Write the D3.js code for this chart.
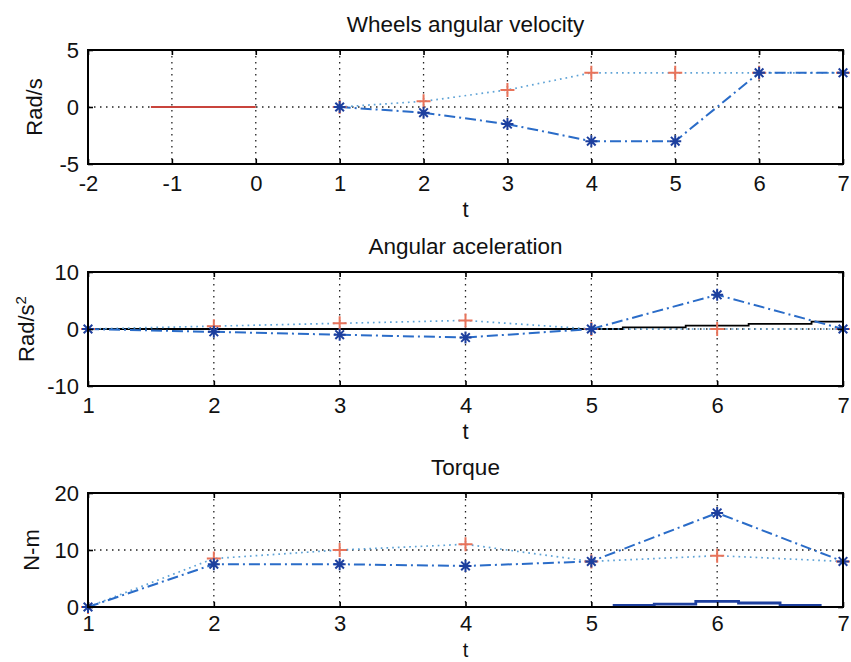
<!DOCTYPE html>
<html>
<head>
<meta charset="utf-8">
<script src="https://cdn.jsdelivr.net/npm/d3@7"></script>
<style>
  body { margin: 0; background: #fff; }
  svg { display: block; font-family: "Liberation Sans", Arial, sans-serif; }
  .axis text { font-size: 22px; fill: #111; }
  .axis path, .axis line { stroke: #000; }
</style>
</head>
<body>
<script>
// ---- data ----
var tSteps = [1, 2, 3, 4, 5, 6, 7];

// wheels angular velocity
var velRed = [0, 0.5, 1.5, 3, 3, 3, 3];
var velBlue = [0, -0.5, -1.5, -3, -3, 3, 3];
var velRefT = [-1.25, 0];
var velRefY = [0, 0];
var velXTicks = [-2, -1, 0, 1, 2, 3, 4, 5, 6, 7];
var velYTicks = [-5, 0, 5];

// angular acceleration
var accRed = [0, 0.5, 1, 1.5, 0, 0, 0];
var accBlue = [0, -0.5, -1, -1.5, 0, 6, 0];
var accStepT = [1, 5.25, 5.75, 6.25, 6.75, 7];
var accStepY = [0, 0.3, 0.6, 0.9, 1.3, 1.3];
var accYTicks = [-10, 0, 10];

// torque
var torqueRed = [0, 8.5, 10, 11, 8, 9, 8];
var torqueBlue = [0, 7.5, 7.5, 7.2, 8, 16.5, 8];
var torqueStepT = [5.17, 5.5, 5.83, 6.17, 6.5, 6.83];
var torqueStepY = [0.3, 0.5, 1.0, 0.7, 0.3, 0.3];
var torqueYTicks = [0, 10, 20];

var stepXTicks = [1, 2, 3, 4, 5, 6, 7];

// ---- drawing ----
var width = 851, height = 662;
var left = 88, right = 843;

var svg = d3.select("body").append("svg")
    .attr("width", width)
    .attr("height", height);

function zip(xs, ys) { return xs.map(function(x, i) { return [x, ys[i]]; }); }
function fmt(d) { return String(d); }

function panel(opt) {
  var x = d3.scaleLinear().domain(opt.xDomain).range([left, right]);
  var y = d3.scaleLinear().domain(opt.yDomain).range([opt.bottom, opt.top]);
  var g = svg.append("g");

  // grid
  g.selectAll(".vgrid").data(opt.xTicks.slice(1, -1)).enter().append("line")
      .attr("x1", function(d) { return x(d); }).attr("x2", function(d) { return x(d); })
      .attr("y1", opt.top).attr("y2", opt.bottom)
      .attr("stroke", "#222").attr("stroke-width", 1.3).attr("stroke-dasharray", "1.5,4.5");
  g.selectAll(".hgrid").data(opt.yTicks.slice(1, -1)).enter().append("line")
      .attr("x1", left).attr("x2", right)
      .attr("y1", function(d) { return y(d); }).attr("y2", function(d) { return y(d); })
      .attr("stroke", "#222").attr("stroke-width", 1.3).attr("stroke-dasharray", "1.5,4.5");

  var line = d3.line().x(function(d) { return x(d[0]); }).y(function(d) { return y(d[1]); });

  (opt.solid || []).forEach(function(s) {
    g.append("path").datum(s.pts)
        .attr("fill", "none").attr("stroke", s.color).attr("stroke-width", s.width || 1.5)
        .attr("d", line.curve(s.step ? d3.curveStepAfter : d3.curveLinear));
  });
  line.curve(d3.curveLinear);

  // red series: dotted line + plus markers
  g.append("path").datum(opt.red)
      .attr("fill", "none").attr("stroke", "#5fa3d6").attr("stroke-width", 1.7)
      .attr("stroke-dasharray", "1.7,4").attr("d", line);
  // blue series: dash-dot line + star markers
  g.append("path").datum(opt.blue)
      .attr("fill", "none").attr("stroke", "#2a6cc8").attr("stroke-width", 2)
      .attr("stroke-dasharray", "11,4,2,4").attr("d", line);

  g.selectAll(".plus").data(opt.red).enter().append("path")
      .attr("transform", function(d) { return "translate(" + x(d[0]) + "," + y(d[1]) + ")"; })
      .attr("d", "M-7,0H7M0,-7V7")
      .attr("stroke", "#e8735a").attr("stroke-width", 2);
  g.selectAll(".star").data(opt.blue).enter().append("path")
      .attr("transform", function(d) { return "translate(" + x(d[0]) + "," + y(d[1]) + ")"; })
      .attr("d", "M-6,0H6M0,-6V6M-4.3,-4.3L4.3,4.3M-4.3,4.3L4.3,-4.3")
      .attr("stroke", "#1d3f9e").attr("stroke-width", 2);

  // axes, ticks inside, box
  g.append("g").attr("class", "axis")
      .attr("transform", "translate(0," + opt.bottom + ")")
      .call(d3.axisBottom(x).tickValues(opt.xTicks).tickFormat(fmt).tickSizeInner(-5).tickSizeOuter(0)
        .tickPadding(opt.xPad || 11))
      .call(function(a) { a.select(".domain").remove(); });
  g.append("g").attr("class", "axis")
      .attr("transform", "translate(" + left + ",0)")
      .call(d3.axisLeft(y).tickValues(opt.yTicks).tickFormat(fmt).tickSizeInner(-5).tickSizeOuter(0).tickPadding(9))
      .call(function(a) { a.select(".domain").remove(); });
  g.append("g").attr("class", "axis")
      .attr("transform", "translate(0," + opt.top + ")")
      .call(d3.axisTop(x).tickValues(opt.xTicks).tickSizeInner(-5).tickSizeOuter(0).tickFormat(""))
      .call(function(a) { a.select(".domain").remove(); });
  g.append("g").attr("class", "axis")
      .attr("transform", "translate(" + right + ",0)")
      .call(d3.axisRight(y).tickValues(opt.yTicks).tickSizeInner(-5).tickSizeOuter(0).tickFormat(""))
      .call(function(a) { a.select(".domain").remove(); });
  g.selectAll(".axis line").attr("stroke-width", 1.6);

  g.append("rect")
      .attr("x", left).attr("y", opt.top)
      .attr("width", right - left).attr("height", opt.bottom - opt.top)
      .attr("fill", "none").attr("stroke", "#000").attr("stroke-width", 2);

  // texts
  g.append("text").attr("x", (left + right) / 2).attr("y", opt.top - 18)
      .attr("text-anchor", "middle").attr("font-size", 22.5).attr("fill", "#111")
      .text(opt.title);
  g.append("text").attr("x", (left + right) / 2).attr("y", opt.bottom + (opt.xlabDy || 53))
      .attr("text-anchor", "middle").attr("font-size", opt.xlabSize || 22).attr("fill", "#111")
      .text("t");
  var yl = g.append("text")
      .attr("transform", "translate(" + opt.ylabX + "," + (opt.top + opt.bottom) / 2 + ") rotate(-90)")
      .attr("text-anchor", "middle").attr("font-size", 22).attr("fill", "#111");
  yl.text(opt.ylabel);
  if (opt.ylabSup) {
    yl.append("tspan").attr("dy", -8).attr("font-size", 15).text(opt.ylabSup);
  }
}

panel({
  title: "Wheels angular velocity", ylabel: "Rad/s", ylabX: 42,
  top: 50, bottom: 164, xDomain: [-2, 7], yDomain: [-5, 5],
  xTicks: velXTicks, yTicks: velYTicks,
  red: zip(tSteps, velRed), blue: zip(tSteps, velBlue),
  solid: [{ pts: zip(velRefT, velRefY), color: "#c9443c", width: 2.2 }]
});

panel({
  title: "Angular aceleration", ylabel: "Rad/s", ylabSup: "2", ylabX: 34,
  top: 272, bottom: 386, xDomain: [1, 7], yDomain: [-10, 10],
  xTicks: stepXTicks, yTicks: accYTicks,
  red: zip(tSteps, accRed), blue: zip(tSteps, accBlue),
  solid: [{ pts: zip(accStepT, accStepY), color: "#000", width: 1.8, step: true }]
});

panel({
  title: "Torque", ylabel: "N-m", ylabX: 39, xlabDy: 50, xlabSize: 20, xPad: 8,
  top: 493, bottom: 607, xDomain: [1, 7], yDomain: [0, 20],
  xTicks: stepXTicks, yTicks: torqueYTicks,
  red: zip(tSteps, torqueRed), blue: zip(tSteps, torqueBlue),
  solid: [{ pts: zip(torqueStepT, torqueStepY), color: "#1d3f9e", width: 2.8, step: true }]
});
</script>
</body>
</html>
